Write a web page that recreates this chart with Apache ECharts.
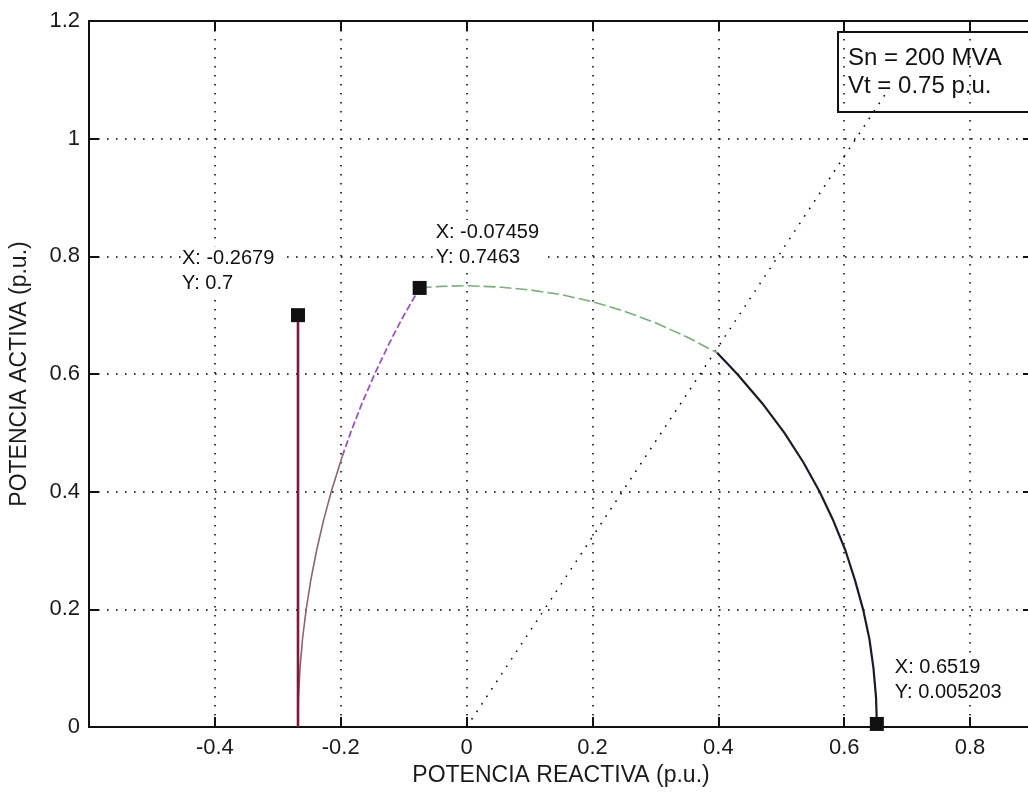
<!DOCTYPE html>
<html>
<head>
<meta charset="utf-8">
<script src="https://cdn.jsdelivr.net/npm/echarts@6/dist/echarts.min.js"></script>
<style>
html,body{margin:0;padding:0;background:#fff;}
#chart{width:1028px;height:793px;}
</style>
</head>
<body>
<div id="chart"></div>
<script>
// ---- data ----
var redX = [-0.2679, -0.2679];
var redY = [0.0, 0.7];

var magLowX = [-0.2680, -0.2672, -0.2647, -0.2607, -0.2549, -0.2475, -0.2384, -0.2276, -0.2151, -0.1976];
var magLowY = [0.0, 0.05, 0.10, 0.15, 0.20, 0.25, 0.30, 0.35, 0.40, 0.46];

var magHighX = [-0.1976, -0.1844, -0.1663, -0.1461, -0.1239, -0.1120, -0.0995, -0.0860, -0.0746];
var magHighY = [0.46, 0.50, 0.55, 0.60, 0.65, 0.675, 0.70, 0.725, 0.7463];

var greenX = [-0.0746, -0.04, 0.0, 0.05, 0.10, 0.15, 0.20, 0.25, 0.30, 0.35, 0.398];
var greenY = [0.7463, 0.749, 0.75, 0.748, 0.743, 0.735, 0.723, 0.707, 0.687, 0.663, 0.636];

var blackX = [0.398, 0.430, 0.470, 0.505, 0.535, 0.561, 0.583, 0.602, 0.617, 0.630, 0.640, 0.6465, 0.6506, 0.6519];
var blackY = [0.636, 0.60, 0.55, 0.50, 0.45, 0.40, 0.35, 0.30, 0.25, 0.20, 0.15, 0.10, 0.05, 0.005203];

var diagX = [0.0, 0.665];
var diagY = [0.0, 1.075];

var tipX = [-0.2679, -0.07459, 0.6519];
var tipY = [0.7, 0.7463, 0.005203];
var tipLabels = ['X: -0.2679\nY: 0.7', 'X: -0.07459\nY: 0.7463', 'X: 0.6519\nY: 0.005203'];

var boxText = 'Sn = 200 MVA\nVt = 0.75 p.u.';
var xName = 'POTENCIA REACTIVA (p.u.)';
var yName = 'POTENCIA ACTIVA (p.u.)';

// ---- helpers ----
function pairs(xs, ys) { return xs.map(function (x, i) { return [x, ys[i]]; }); }

var FONT = 'Liberation Sans';
var tipOffsets = [[-109, -62], [23, -61], [25, -62]];

var gridDot = { type: [1.6, 7.4], color: '#000', width: 1.5 };
var axisStyle = { color: '#111', width: 2 };

var chart = echarts.init(document.getElementById('chart'));
chart.setOption({
  animation: false,
  backgroundColor: '#fff',
  title: {
    text: boxText,
    left: 838, top: 32,
    borderColor: '#111', borderWidth: 2,
    padding: [12, 40, 12, 10],
    textStyle: { fontFamily: FONT, fontSize: 24, fontWeight: 'normal', color: '#111', lineHeight: 28 }
  },
  grid: { left: 89, top: 21, right: -5, bottom: 66, containLabel: false, outerBoundsMode: 'none' },
  xAxis: [{
    type: 'value', min: -0.6, max: 0.9, interval: 0.2,
    name: xName, nameLocation: 'middle', nameGap: 36,
    nameTextStyle: { fontFamily: FONT, fontSize: 23, color: '#1a1a1a' },
    axisLine: { show: true, onZero: false, lineStyle: axisStyle },
    axisTick: { show: true, inside: true, length: 10, lineStyle: axisStyle },
    axisLabel: { showMinLabel: false, showMaxLabel: false, margin: 10, fontFamily: FONT, fontSize: 22, color: '#1a1a1a' },
    splitLine: { show: true, lineStyle: gridDot }
  }, {
    type: 'value', position: 'top', min: -0.6, max: 0.9, interval: 0.2,
    axisLine: { show: true, onZero: false, lineStyle: axisStyle },
    axisTick: { show: true, inside: true, length: 10, lineStyle: axisStyle },
    axisLabel: { show: false }, splitLine: { show: false }
  }],
  yAxis: [{
    type: 'value', min: 0, max: 1.2, interval: 0.2,
    name: yName, nameLocation: 'middle', nameGap: 58, nameRotate: 90,
    nameTextStyle: { fontFamily: FONT, fontSize: 23, color: '#1a1a1a' },
    axisLine: { show: true, onZero: false, lineStyle: axisStyle },
    axisTick: { show: true, inside: true, length: 10, lineStyle: axisStyle },
    axisLabel: { margin: 9, fontFamily: FONT, fontSize: 22, color: '#1a1a1a' },
    splitLine: { show: true, lineStyle: gridDot }
  }, {
    type: 'value', position: 'right', min: 0, max: 1.2, interval: 0.2,
    axisLine: { show: true, onZero: false, lineStyle: axisStyle },
    axisTick: { show: true, inside: true, length: 10, lineStyle: axisStyle },
    axisLabel: { show: false }, splitLine: { show: false }
  }],
  series: [
    { type: 'line', data: pairs(diagX, diagY), symbol: 'none', lineStyle: { type: [1.6, 7.4], color: '#000', width: 1.5 }, z: 2 },
    { type: 'line', data: pairs(magLowX, magLowY), symbol: 'none', lineStyle: { color: '#8a6476', width: 1.6 }, z: 3 },
    { type: 'line', data: pairs(magHighX, magHighY), symbol: 'none', lineStyle: { color: '#9a55bb', width: 1.8, type: [7, 3] }, z: 3 },
    { type: 'line', data: pairs(redX, redY), symbol: 'none', lineStyle: { color: '#801a3c', width: 2.6 }, z: 4 },
    { type: 'line', data: pairs(greenX, greenY), symbol: 'none', lineStyle: { color: '#78b078', width: 1.6, type: [12, 4] }, z: 3 },
    { type: 'line', data: pairs(blackX, blackY), symbol: 'none', lineStyle: { color: '#1c1c28', width: 2.2 }, z: 3 },
    {
      type: 'scatter', symbol: 'rect', symbolSize: 14, z: 6,
      itemStyle: { color: '#111', opacity: 1 },
      emphasis: { disabled: true },
      data: tipX.map(function (x, i) {
        return {
          value: [x, tipY[i]],
          label: {
            show: true, position: tipOffsets[i],
            formatter: tipLabels[i],
            fontFamily: FONT, fontSize: 20, lineHeight: 25, color: '#111',
            backgroundColor: '#fff', padding: [0, 8, 0, 0], align: 'left'
          }
        };
      })
    }
  ]
});
</script>
</body>
</html>
